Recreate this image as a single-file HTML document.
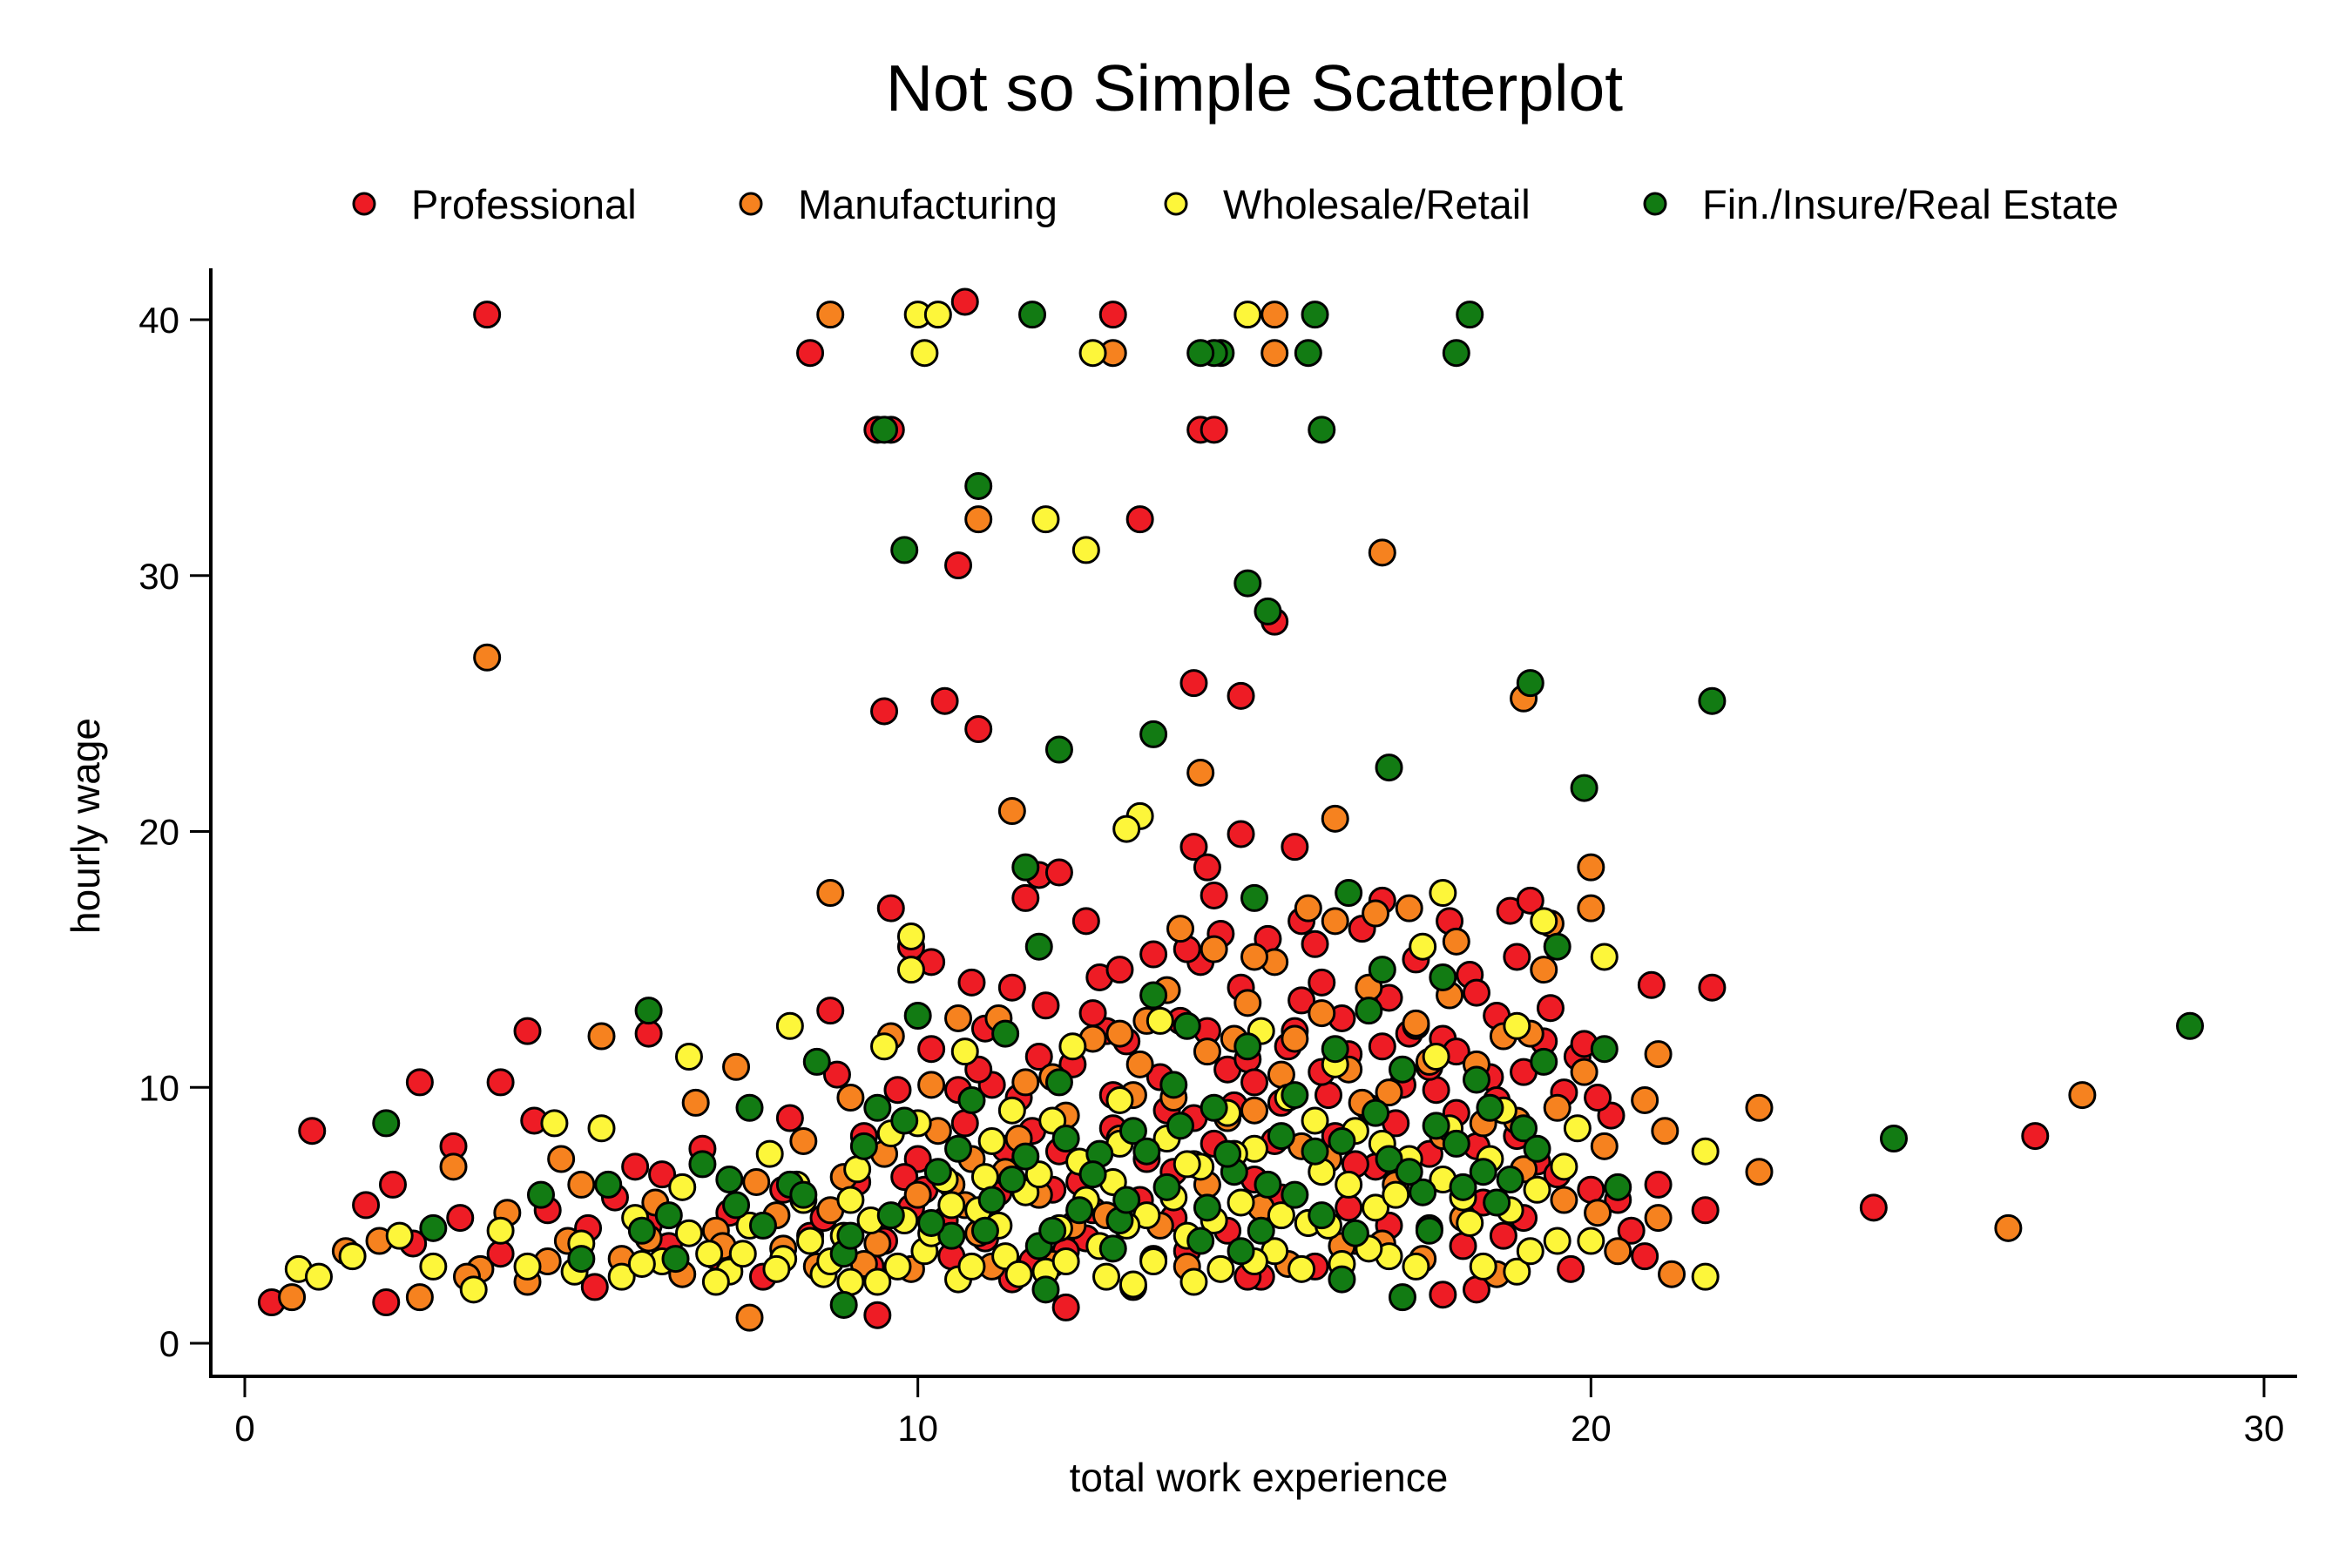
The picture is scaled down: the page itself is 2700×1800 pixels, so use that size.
<!DOCTYPE html>
<html><head><meta charset="utf-8"><style>
html,body{margin:0;padding:0;background:#fff;}
svg{display:block;font-family:"Liberation Sans",sans-serif;}
</style></head><body>
<svg id="chart" width="2700" height="1800" viewBox="0 0 2700 1800">
<text x="1440" y="127" font-size="75" text-anchor="middle">Not so Simple Scatterplot</text>
<g id="legend"></g>
<g id="marks"></g>
<line x1="242" y1="308" x2="242" y2="1580" stroke="#000" stroke-width="4"/>
<line x1="240" y1="1580" x2="2637" y2="1580" stroke="#000" stroke-width="4"/>
<g id="axes"></g>
<text x="1445" y="1712" font-size="46" text-anchor="middle">total work experience</text>
<text x="0" y="0" font-size="46" text-anchor="middle" transform="translate(114,948) rotate(-90)">hourly wage</text>
</svg>
<script>
const xTicks=[0,10,20,30];
const yTicks=[0,10,20,30,40];
const seriesNames=["Professional","Manufacturing","Wholesale/Retail","Fin./Insure/Real Estate"];
const seriesColors=["#ee1c25","#f6821f","#fdf63a","#127b13"];
const profX=[3.6,10.7,12.9,8.4,9.6,9.4,14.2,14.4,13.3,10.6,15.3,9.5,10.4,10.9,14.1,14.8,14.8,14.1,14.3,15.6,11.8,12.1,11.6,14.4,9.6,12.5,10.2,9.9,11.4,8.7,21.8,20.9,4.2,6.0,2.6,3.8,1,26.6,24.2,21.7,0.4,2.1,9.4,12.2,17.8,18.3,
4.5,5.1,5.8,6.3,6.8,7.2,7.7,8.1,8.4,8.8,9.1,9.3,9.7,10.0,10.2,10.4,10.7,11.0,11.2,11.5,11.7,11.9,12.1,12.3,12.5,12.7,12.9,13.1,13.3,13.5,13.7,13.9,14.0,14.2,14.4,14.6,14.8,15.0,15.2,15.4,15.6,15.8,16.0,16.2,16.4,16.6,16.8,17.0,17.2,17.4,17.6,17.8,18.0,18.2,18.4,18.6,18.8,19.0,19.2,19.4,19.6,19.8,20.0,20.3,20.6,21.0,20.8,19.7,18.1,16.5,15.1,13.2,11.4,10.5,9.8,8.6,3.2,3.8,2.5,1.8,2.2,3.1,4.3,5.5,6.2,12.0,13.8,14.9,16.1,17.3,18.5,19.1,14.5,15.9,12.8,11.1,10.8,17.9,18.9,16.9,
9.2,9.9,10.6,11.3,11.8,12.4,12.9,13.4,13.6,14.1,14.3,14.7,15.0,15.3,15.5,15.7,16.0,16.3,16.5,16.7,17.1,17.4,17.7,18.0,18.3,18.6,18.9,19.3,19.5,20.1,20.4,11.0,12.2,13.5,14.6,15.9,17.0,18.7,8.0,7.0,6.0,5.2,9.5,10.1,13.0,14.0,15.7,16.9,18.3,17.6,19.9,12.6,11.7,10.9,16.4,15.4,13.8,12.6,14.9,19.0];
const profY=[40.2,40.7,40.2,38.7,35.7,35.7,35.7,35.7,32.2,30.4,28.2,24.7,25.1,24,25.8,25.3,19.9,19.4,18.6,19.4,18.3,18.4,17.4,17.5,17,16.5,14.9,15.5,13.9,13,13.9,14,12.2,12.1,10.2,10.2,8.3,8.1,5.3,5.2,1.6,1.6,1.1,1.4,1.9,2.1,
5.2,4.5,6.9,3.8,7.6,5.1,2.6,8.8,4.2,10.5,6.3,3.0,9.9,7.2,11.5,4.8,8.6,12.3,5.9,9.6,3.2,13.2,7.5,10.9,4.1,14.3,8.4,11.8,5.6,15.2,9.1,12.6,3.6,14.9,7.8,10.7,13.9,6.4,15.8,9.4,12.2,4.7,14.1,8.1,11.3,16.2,6.9,13.5,10.1,15.0,7.4,11.9,9.0,14.4,5.5,12.8,16.9,10.6,7.1,13.1,9.8,11.2,6.0,8.9,4.4,6.2,3.4,2.9,3.8,4.0,2.6,2.2,2.5,3.4,6.5,4.9,4.9,3.5,3.9,5.4,6.2,7.7,8.7,5.7,6.6,6.0,6.7,11.1,9.7,12.1,10.4,17.3,16.0,15.6,12.2,10.1,14.1,16.5,15.1,11.6,
8.1,5.3,9.9,7.6,11.2,6.3,9.7,7.2,10.4,8.8,12.2,9.3,10.2,7.9,11.6,13.4,10.6,12.7,7.0,9.2,8.6,12.4,9.9,11.4,7.7,9.5,8.1,11.8,6.6,9.6,5.6,4.1,3.6,3.3,4.4,3.0,4.6,4.2,6.0,3.4,4.6,2.2,4.0,6.0,14.6,15.4,16.5,17.3,13.7,10.8,11.7,12.9,8.3,10.7,5.3,5.7,4.9,5.2,2.6,4.9];
const manuX=[3.6,8.7,12.9,15.3,15.3,10.9,16.9,14.2,11.4,16.2,8.7,20,19,22.5,27.3,26.2,22.5,7.5,0.7,5.3,3.1,4.7,
1.5,2.6,3.5,4.2,4.8,5.6,6.1,6.7,7.0,7.3,7.6,8.0,8.3,8.7,9.0,9.4,9.6,10.0,10.3,10.6,10.9,11.3,11.6,12.0,12.2,12.6,12.8,13.2,13.4,13.6,13.9,14.1,14.3,14.6,14.9,15.1,15.4,15.7,16.0,16.3,16.6,16.8,17.1,17.3,17.6,17.9,18.1,18.4,18.7,19.0,19.3,19.6,19.9,20.2,20.4,20.8,21.0,21.1,21.0,21.2,20.0,19.4,18.6,17.5,16.2,15.8,15.3,14.4,13.0,11.8,10.5,9.2,7.9,6.5,5.0,3.9,
9.5,10.2,10.8,11.5,12.0,12.5,13.0,13.3,13.8,14.3,14.7,15.0,15.6,16.1,16.4,17.0,17.4,17.8,18.3,18.9,19.5,20.1,16.9,15.5,14.0,12.3,11.1,9.9,8.5,7.1,6.0,4.5,3.3,2.0,11.2,13.7,15.0,16.7,18.0,19.1,8.9,10.7];
const manuY=[26.8,40.2,38.7,40.2,38.7,32.2,30.9,22.3,20.8,20.5,17.6,18.6,25.2,9.2,9.7,4.5,6.7,1,1.8,12,6.9,7.2,
3.6,1.8,2.9,2.4,4.0,3.3,5.5,9.4,4.4,10.8,6.3,3.7,7.9,5.2,9.6,3.9,12.0,5.8,8.3,12.7,4.3,6.7,10.2,3.1,8.9,11.9,5.0,9.7,12.6,4.6,16.2,7.0,11.4,8.8,13.3,5.3,10.5,7.7,12.9,3.8,9.4,16.8,6.2,17.0,11.0,13.6,4.9,8.6,12.0,6.8,14.6,5.6,10.6,7.7,3.6,9.5,11.3,8.3,4.9,2.7,17.0,16.4,2.7,3.3,16.5,17.0,14.9,15.4,12.1,5.8,6.2,3.1,5.0,2.7,6.2,5.1,
7.4,10.1,7.2,8.0,10.4,7.0,8.0,10.9,9.6,6.2,11.9,9.1,11.9,7.2,10.7,9.8,12.5,8.1,10.9,8.7,9.2,5.1,3.9,3.1,3.0,4.6,3.0,2.9,3.0,3.8,4.1,3.2,2.6,4.0,12.7,13.8,15.1,13.9,15.7,12.1,6.5,5.4];
const wholX=[10,10.3,10.1,12.6,14.9,12.5,11.9,13.3,13.1,9.9,9.9,20.2,21.7,21.7,0.8,1.1,6.6,8.1,17.8,17.5,19.3,
1.6,2.3,2.8,3.4,3.8,4.2,4.6,4.9,5.3,5.6,5.8,6.2,6.5,6.9,7.2,7.5,7.8,8.0,8.3,8.6,8.9,9.1,9.4,9.6,9.8,10.1,10.4,10.6,10.9,11.1,11.3,11.6,11.9,12.1,12.4,12.7,12.9,13.2,13.4,13.7,14.0,14.2,14.5,14.8,15.0,15.3,15.5,15.8,16.0,16.3,16.5,16.8,17.0,17.3,17.6,17.9,18.1,18.4,18.7,18.9,19.2,19.5,19.8,16.2,15.1,13.6,12.3,10.7,9.5,14.6,13.0,11.4,17.7,18.9,
5.0,5.9,6.6,7.0,7.4,7.9,8.4,8.7,9.0,9.3,9.7,10.2,10.5,10.8,11.2,11.5,11.8,12.2,12.5,12.8,13.1,13.5,13.8,14.1,14.4,14.7,15.0,15.4,15.7,16.1,16.4,16.7,17.1,17.4,17.8,18.2,18.5,18.8,19.1,19.6,20.0,13.0,14.0,15.9,16.9,12.0,10.0,11.0,9.0,8.2];
const wholY=[40.2,40.2,38.7,38.7,40.2,31,32.2,20.6,20.1,15.9,14.6,15.1,7.5,2.6,2.9,2.6,11.2,12.4,17.6,15.5,16.5,
3.4,4.2,3.0,2.1,4.4,3.0,8.6,2.8,8.4,2.6,4.9,3.2,6.1,3.5,2.8,4.6,7.4,3.3,5.6,2.7,4.2,6.8,2.4,8.2,4.8,3.6,6.4,2.5,5.2,7.9,3.4,5.9,2.8,4.5,7.1,3.8,6.3,2.3,5.0,8.0,4.2,6.9,2.9,5.5,7.6,3.6,9.6,4.7,6.7,3.1,8.3,5.3,3.4,7.2,4.5,8.4,5.7,3.0,9.1,2.8,6.0,4.0,8.4,10.9,12.2,12.6,11.6,11.4,11.6,9.0,9.5,9.1,11.2,12.4,
3.9,3.1,4.3,2.4,3.5,2.9,4.0,3.2,2.4,4.8,3.0,4.3,5.4,3.0,4.6,2.7,6.6,3.2,5.6,2.6,4.6,3.2,5.7,2.4,4.8,7.4,3.2,5.0,2.9,4.6,6.2,3.7,5.8,3.0,6.4,4.7,7.2,5.2,3.6,6.9,4.0,7.8,7.0,8.7,7.8,8.7,8.6,6.5,5.6,6.2];
const finX=[11.7,14.5,14.4,14.2,15.9,15.8,18.2,18.0,9.5,16.0,10.9,9.8,14.9,15.2,13.5,12.1,17,19.1,21.8,19.9,11.6,16.4,15.0,11.8,19.5,28.9,24.5,2.1,6.0,7.5,17.2,8.9,16.3,
4.4,5.0,5.4,5.9,6.4,6.8,7.3,7.7,8.1,8.5,8.9,9.2,9.6,10.0,10.3,10.5,10.8,11.1,11.3,11.6,11.8,12.1,12.4,12.7,13.0,13.2,13.5,13.7,14.0,14.2,14.4,14.7,14.9,15.1,15.4,15.6,15.9,16.2,16.5,16.7,17.0,17.2,17.5,17.8,18.0,18.3,18.6,18.8,19.0,19.3,20.2,20.4,18.4,16.9,13.9,12.2,9.4,2.8,6.3,11.9,
9.8,10.6,11.4,12.0,12.6,13.1,13.4,13.8,14.3,14.6,15.2,15.6,16.0,16.3,16.8,17.3,17.7,18.1,18.5,19.2,11.0,12.9,10.2,9.0,8.3,7.2,14.8,17.6];
const finY=[40.2,38.7,38.7,38.7,40.2,38.7,40.2,38.7,35.7,35.7,33.5,31,29.7,28.6,23.8,23.2,22.5,25.8,25.1,21.7,18.6,17.6,17.4,15.5,15.5,12.4,8,8.6,13,9.2,1.8,1.5,2.5,
5.8,3.3,6.2,4.4,3.3,7.0,5.4,4.6,6.2,11.0,3.5,7.7,5.0,12.8,6.7,4.2,9.5,5.6,12.1,7.3,3.8,10.2,5.2,7.4,4.8,8.3,13.6,6.1,12.4,4.0,9.2,6.7,11.6,4.4,8.1,5.8,7.5,11.5,4.3,13.0,7.2,10.7,5.9,14.3,7.8,10.3,5.5,6.4,8.4,11.0,11.5,6.1,6.7,14.6,8.5,8.0,9.2,4.5,5.0,2.1,
8.7,7.6,6.4,4.4,6.6,5.6,7.5,10.1,5.3,7.4,6.2,9.7,5.0,7.9,9.0,6.7,8.5,6.1,9.2,7.6,4.4,3.7,4.7,4.2,5.8,6.4,3.6,4.4];

const NS="http://www.w3.org/2000/svg";
const X0=281,X1=2599,Y0=1542,Y1=367;
function sx(v){return X0+(v-0)/(30-0)*(X1-X0);}
function sy(v){return Y0-(v-0)/(40-0)*(Y0-Y1);}
const axes=document.getElementById('axes');
xTicks.forEach(t=>{
  const l=document.createElementNS(NS,'line');
  l.setAttribute('x1',sx(t));l.setAttribute('x2',sx(t));l.setAttribute('y1',1580);l.setAttribute('y2',1604);
  l.setAttribute('stroke','#000');l.setAttribute('stroke-width','3');
  
  
  axes.appendChild(l);
  const tx=document.createElementNS(NS,'text');
  tx.setAttribute('x',sx(t));tx.setAttribute('y',1654);tx.setAttribute('font-size','42');tx.setAttribute('text-anchor','middle');
  tx.textContent=t;
  
  
  axes.appendChild(tx);
});
yTicks.forEach(t=>{
  const l=document.createElementNS(NS,'line');
  l.setAttribute('x1',218);l.setAttribute('x2',242);l.setAttribute('y1',sy(t));l.setAttribute('y2',sy(t));
  l.setAttribute('stroke','#000');l.setAttribute('stroke-width','3');
  
  
  axes.appendChild(l);
  const tx=document.createElementNS(NS,'text');
  tx.setAttribute('x',206);tx.setAttribute('y',sy(t)+15);tx.setAttribute('font-size','42');tx.setAttribute('text-anchor','end');
  tx.textContent=t;
  
  
  axes.appendChild(tx);
});
const marks=document.getElementById('marks');
const all=[[profX,profY],[manuX,manuY],[wholX,wholY],[finX,finY]];
const slugs=["professional","manufacturing","wholesale-retail","fin-insure-real-estate"];
all.forEach((s,i)=>{
  const g=document.createElementNS(NS,'g');
  
  
  s[0].forEach((xv,j)=>{
    const c=document.createElementNS(NS,'circle');
    c.setAttribute('cx',sx(xv));c.setAttribute('cy',sy(s[1][j]));c.setAttribute('r',14.5);
    c.setAttribute('fill',seriesColors[i]);c.setAttribute('stroke','#000');c.setAttribute('stroke-width','3');
    
    
    g.appendChild(c);
  });
  marks.appendChild(g);
});
const legend=document.getElementById('legend');
const lx=[418,862,1350,1900];
seriesNames.forEach((n,i)=>{
  const c=document.createElementNS(NS,'circle');
  c.setAttribute('cx',lx[i]);c.setAttribute('cy',234);c.setAttribute('r',12);
  c.setAttribute('fill',seriesColors[i]);c.setAttribute('stroke','#000');c.setAttribute('stroke-width','3');
  
  
  legend.appendChild(c);
  const t=document.createElementNS(NS,'text');
  t.setAttribute('x',lx[i]+54);t.setAttribute('y',251);t.setAttribute('font-size','47');
  t.textContent=n;
  
  
  legend.appendChild(t);
});
</script>
</body></html>
